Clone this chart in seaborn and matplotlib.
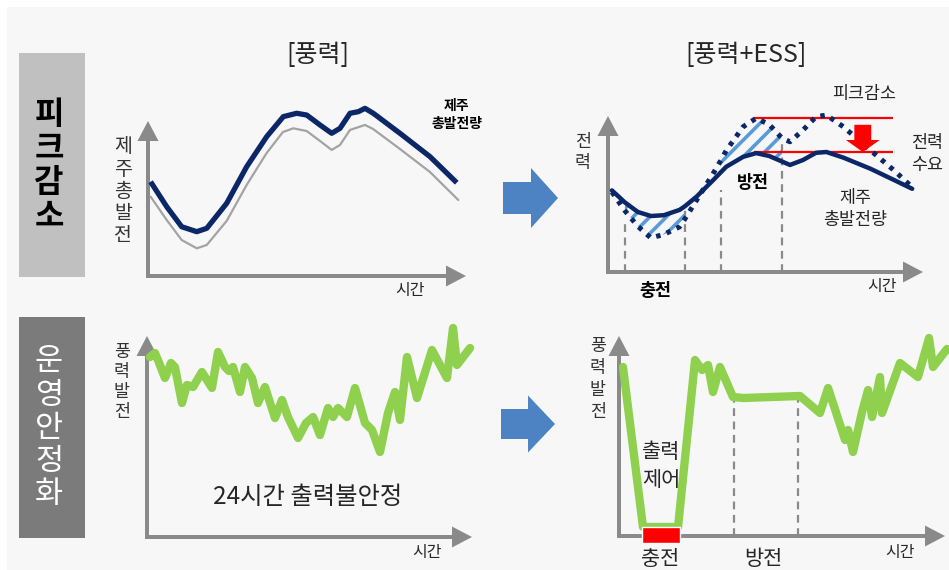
import numpy as np
import matplotlib
matplotlib.use("Agg")
import matplotlib.pyplot as plt
from matplotlib.patches import Rectangle, FancyArrow
import seaborn as sns

# ---------------- data ----------------
# [풍력] : 제주 총발전량 (thick) and wind-only generation (thin grey)
wind_hours = [0.2, 1.44, 2.59, 3.75, 4.52, 6.05, 7.59, 9.13, 10.41, 11.44, 12.21,
              13.23, 14.13, 14.77, 15.54, 16.18, 16.69, 17.33, 19.38, 21.69, 23.75]
wind_total = [58.9, 43.3, 30.8, 27.7, 29.8, 45.4, 68.3, 87.1, 99.6, 101.7, 100.6,
              94.4, 89.2, 92.3, 101.7, 102.7, 104.8, 101.7, 89.2, 74.6, 58.3]
wind_base_hours = [0.2, 1.44, 2.59, 3.75, 4.52, 6.05, 7.59, 9.13, 10.38, 11.18,
                   12.21, 13.23, 14.13, 14.77, 15.54, 16.69, 17.31, 19.38, 21.69, 23.87]
wind_base = [49.6, 35.0, 22.5, 17.3, 19.4, 34.4, 56.9, 76.9, 90.0, 92.3,
             90.6, 84.4, 78.8, 81.9, 91.3, 94.4, 91.9, 79.4, 65.0, 47.5]

# [풍력+ESS] : generation (solid) vs demand (dotted)
ess_hours = [0.3, 1.3, 2.3, 3.3, 4.3, 5.5, 5.9, 6.8, 8.1, 8.7, 9.1, 10.4, 11.4,
             12.4, 13.4, 14.0, 15.0, 16.0, 16.8, 18.1, 20.2, 22.0, 23.4]
ess_generation = [51, 43.5, 37.5, 35, 35.5, 38.8, 41, 47, 57.5, 62.5, 65.8, 72, 74.3,
                  72.5, 69, 66.9, 70, 74.5, 75, 71.5, 64.5, 57.5, 52]
ess_demand = [50, 38.3, 28.5, 21.3, 23.5, 28.2, 33, 44.7, 61.7, 70, 76, 90.8, 96.1,
              92.2, 83.5, 81.4, 88.7, 97, 98.1, 90.8, 76, 63.5, 53]
peak_before = 96
peak_after = 75
peak_span = [11.2, 21.9]
peak_arrow_hour = 19.6
ess_charge_marks = [1.3, 5.9]
ess_discharge_marks = [8.7, 13.4]
ess_mark_tops = [31, 39, 51, 81]

# 운영안정화 : raw wind output over 24 h
raw_hours = [0.22, 0.59, 0.81, 1.33, 1.78, 2.07, 2.59, 2.96, 3.41, 4.07, 4.81, 5.26,
             5.78, 6.07, 6.37, 6.89, 7.26, 7.78, 8.22, 8.74, 9.48, 10.0, 10.44,
             11.19, 11.78, 12.3, 12.81, 13.41, 13.78, 14.15, 14.81, 15.41, 16.15,
             16.67, 17.26, 17.85, 18.37, 18.74, 19.26, 20.0, 21.11, 22.22, 22.67,
             22.96, 23.93]
raw_output = [90, 92, 88.5, 79.5, 87, 85, 67, 76, 75, 82.5, 74.5, 92.5,
              85, 83, 85, 72.5, 85, 79.5, 67, 75, 59.5, 68.5, 60,
              49.5, 57, 60, 51, 64.5, 60, 64.5, 60, 74.5, 57,
              53.5, 42.5, 62, 72.5, 58.5, 90, 69.5, 93.5, 79.5, 104.5,
              86, 94.5]

# output with ESS control
ctrl_hours = [0.29, 1.75, 4.31, 5.55, 6.06, 6.5, 6.86, 7.37, 8.32, 9.05, 13.21,
              14.67, 15.26, 16.5, 16.72, 17.08, 17.74, 18.18, 18.47, 19.05, 19.2,
              20.51, 21.82, 22.63, 22.92, 23.94]
ctrl_output = [84.5, 4.5, 4.5, 88, 83, 85.5, 72, 84.5, 69.5, 69, 70,
               61.5, 74, 48, 53, 42, 62, 73, 59.5, 79.5, 61.5,
               86.5, 79.5, 99, 84.5, 93.5]
ctrl_charge = [1.66, 4.45]
ctrl_discharge_marks = [8.42, 13.09]
ctrl_mark_top = 68

# ---------------- style ----------------
sns.set_theme(style="white")
plt.rcParams["font.family"] = ["Noto Sans CJK KR", "DejaVu Sans"]
plt.rcParams["hatch.linewidth"] = 2.6

NAVY = "#0c2767"
GREEN = "#8fd14f"
AXIS_GREY = "#8a8a8a"
HATCH_BLUE = "#5b9bd5"
ARROW_BLUE = "#4d82c3"
RED = "#ff0000"
TXT = "#262626"

W, H = 949, 570
fig = plt.figure(figsize=(W / 100, H / 100), dpi=100, facecolor="white")

# overlay in pixel units for frames, boxes, arrows and labels
ov = fig.add_axes([0, 0, 1, 1])
ov.set_xlim(0, W)
ov.set_ylim(H, 0)
ov.set_axis_off()
ov.add_patch(Rectangle((7, 7), W, H, facecolor="#f7f7f7", edgecolor="none"))


def panel(x0, y0, hx, vy):
    ax = fig.add_axes([x0 / W, 1 - y0 / H, 24 * hx / W, 100 * vy / H])
    ax.set_xlim(0, 24)
    ax.set_ylim(0, 100)
    ax.set_axis_off()
    ax.patch.set_alpha(0)
    return ax


def axis_arrows(x0, y0, xtip, ytip):
    kw = dict(width=4, head_width=21, head_length=20, length_includes_head=True,
              color=AXIS_GREY, linewidth=0)
    ov.add_patch(FancyArrow(x0, y0 + 2, 0, ytip - (y0 + 2), **kw))
    ov.add_patch(FancyArrow(x0 - 2, y0, xtip - (x0 - 2), 0, **kw))


def stack(text, x, y, step, **kw):
    for i, ch in enumerate(text):
        ov.text(x, y + i * step, ch, ha="center", va="center", **kw)


def label(x, y, s, **kw):
    kw.setdefault("color", TXT)
    ov.text(x, y, s, ha="center", va="center", **kw)


# side boxes
ov.add_patch(Rectangle((19, 53), 66, 224, facecolor="#c0c0c0", edgecolor="none"))
ov.add_patch(Rectangle((19, 317), 66, 221, facecolor="#7b7b7b", edgecolor="none"))
stack("피크감소", 49, 115, 34, fontsize=23, fontweight="bold", color="black")
stack("운영안정화", 49, 362, 33.2, fontsize=22, color="white")

# titles
label(318, 55, "[풍력]", fontsize=18)
label(746, 55, "[풍력+ESS]", fontsize=18)

# transition arrows
for xs, yc, sw, hw, hl, ln in [(503, 198, 32, 60, 27, 55), (501, 424, 30, 57, 27, 54)]:
    ov.add_patch(FancyArrow(xs, yc, ln, 0, width=sw, head_width=hw, head_length=hl,
                            length_includes_head=True, color=ARROW_BLUE, linewidth=0))

# axes arrows
axis_arrows(148, 276, 466, 121)
axis_arrows(608, 272, 923, 116)
axis_arrows(147, 537, 472, 336)
axis_arrows(619, 536, 945, 336)

line_kw = dict(estimator=None, sort=False, legend=False, clip_on=False)

# ---- panel 1: 풍력 ----
ax1 = panel(148, 276, 13, 1.6)
sns.lineplot(x=wind_base_hours, y=wind_base, ax=ax1, color="#a3a3a3", linewidth=1.6,
             **line_kw)
sns.lineplot(x=wind_hours, y=wind_total, ax=ax1, color=NAVY, linewidth=3.8,
             solid_joinstyle="round", solid_capstyle="butt", **line_kw)
stack("제주총발전", 123, 147, 22.2, fontsize=14, color="#333333")
label(456, 106, "제주", fontsize=10, fontweight="bold", color="black")
label(457, 124, "총발전량", fontsize=10, fontweight="bold", color="black")
label(410, 291, "시간", fontsize=11.5)

# ---- panel 2: 풍력+ESS ----
ax2 = panel(608, 272, 13, 1.6)
hrs = np.array(ess_hours)
gen = np.array(ess_generation)
dem = np.array(ess_demand)
charge_mask = (hrs >= ess_charge_marks[0]) & (hrs <= ess_charge_marks[1])
discharge_mask = (hrs >= ess_discharge_marks[0]) & (hrs <= ess_discharge_marks[1])
for mask in (charge_mask, discharge_mask):
    ax2.fill_between(hrs, dem, gen, where=mask, facecolor="none", edgecolor=HATCH_BLUE,
                     hatch="//", linewidth=0, zorder=1)
ax2.vlines(ess_charge_marks + ess_discharge_marks, 0, ess_mark_tops, colors=AXIS_GREY,
           linestyles=(0, (3.5, 2.5)), linewidth=1.6, zorder=1)
ax2.hlines([peak_before, peak_after], peak_span[0], peak_span[1], colors=RED,
           linewidth=1.6, zorder=2, clip_on=False)
sns.lineplot(x=ess_hours, y=ess_generation, ax=ax2, color=NAVY, linewidth=3.2,
             solid_joinstyle="round", zorder=3, **line_kw)
sns.lineplot(x=ess_hours, y=ess_demand, ax=ax2, color=NAVY, linewidth=3.6,
             linestyle=(0, (0.9, 1.3)), zorder=3, **line_kw)
ax2.add_patch(FancyArrow(peak_arrow_hour, peak_before - 4, 0, -(peak_before - 4 - peak_after),
                         width=1.3, head_width=2.6, head_length=7.5,
                         length_includes_head=True, color=RED, linewidth=0, zorder=4,
                         clip_on=False))
stack("전력", 583, 142, 21, fontsize=12.5, color="#333333")
label(864, 94, "피크감소", fontsize=12.5)
label(927, 143, "전력", fontsize=12.5)
label(927, 165, "수요", fontsize=12.5)
label(753, 183, "방전", fontsize=12.5, fontweight="bold", color="black")
label(855, 198, "제주", fontsize=12.5)
label(855, 220, "총발전량", fontsize=12.5)
label(655, 291, "충전", fontsize=12.5, fontweight="bold", color="black")
label(882, 287, "시간", fontsize=11.5)

# ---- panel 3: raw wind output ----
ax3 = panel(147, 537, 13.5, 2.0)
sns.lineplot(x=raw_hours, y=raw_output, ax=ax3, color=GREEN, linewidth=6.0,
             solid_joinstyle="round", solid_capstyle="round", **line_kw)
stack("풍력발전", 122, 352, 20, fontsize=12.5, color="#333333")
label(308, 497, "24시간 출력불안정", fontsize=17.5)
label(427, 553, "시간", fontsize=11.5)

# ---- panel 4: controlled output with ESS ----
ax4 = panel(619, 536, 13.7, 2.0)
ax4.vlines(ctrl_discharge_marks, 0, ctrl_mark_top, colors=AXIS_GREY,
           linestyles=(0, (3.5, 2.5)), linewidth=1.6, zorder=1)
sns.lineplot(x=ctrl_hours, y=ctrl_output, ax=ax4, color=GREEN, linewidth=6.0,
             solid_joinstyle="round", solid_capstyle="round", zorder=2, **line_kw)
ax4.bar([(ctrl_charge[0] + ctrl_charge[1]) / 2], [8.4], bottom=-3.7,
        width=ctrl_charge[1] - ctrl_charge[0], color=RED, zorder=3, clip_on=False)
stack("풍력발전", 598, 346, 22, fontsize=12.5, color="#333333")
label(661, 452, "출력", fontsize=15)
label(661, 480, "제어", fontsize=15)
label(660, 559, "충전", fontsize=15)
label(763, 559, "방전", fontsize=15)
label(900, 552, "시간", fontsize=11.5)

fig.savefig("out.png", dpi=100, facecolor=fig.get_facecolor())
